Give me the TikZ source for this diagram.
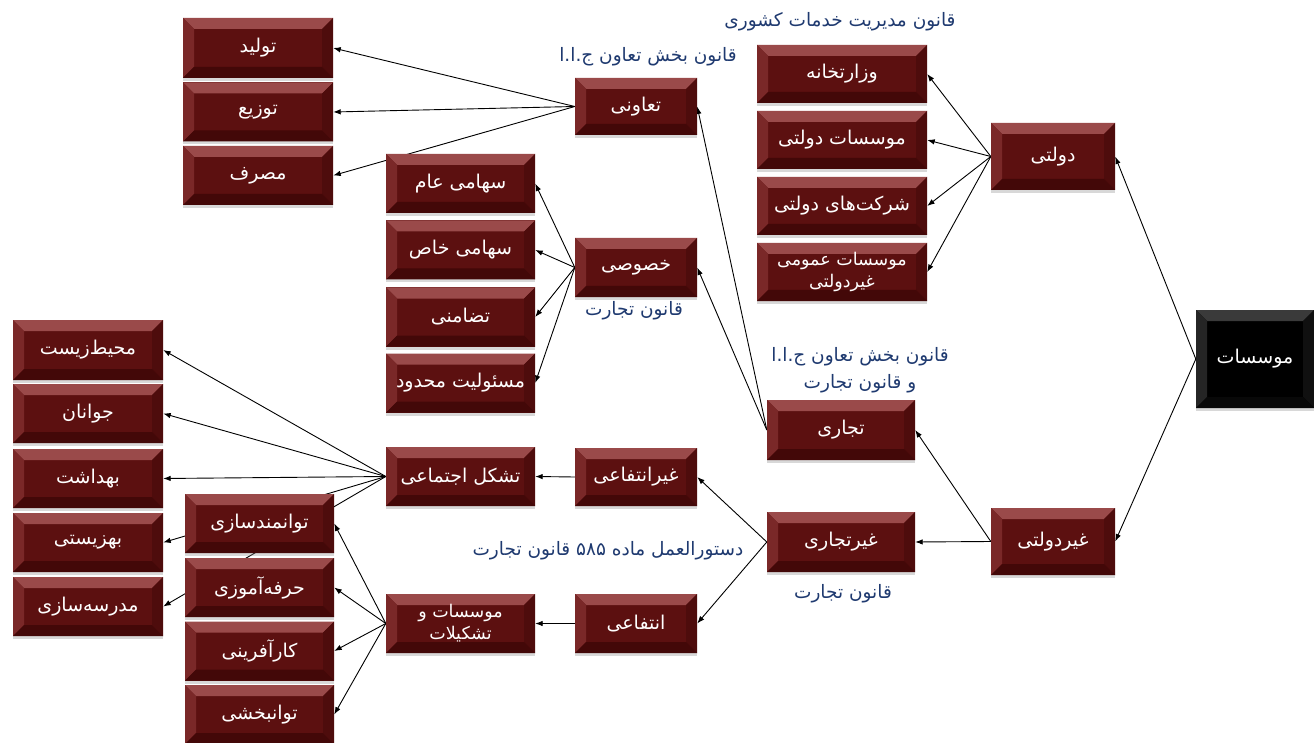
\documentclass[tikz,border=0pt]{standalone}
\usepackage{fontspec}
\TeXXeTstate=1
\newfontfamily\arabicfont[Script=Arabic]{DejaVu Sans}
\usetikzlibrary{arrows.meta,backgrounds,shadows}
\definecolor{boxred}{HTML}{5C1010}
\definecolor{rtop}{HTML}{9A4A4A}
\definecolor{rleft}{HTML}{7A2828}
\definecolor{rright}{HTML}{4E0C0C}
\definecolor{rbot}{HTML}{430808}
\definecolor{ktop}{HTML}{3A3A3A}
\definecolor{kleft}{HTML}{252525}
\definecolor{kright}{HTML}{101010}
\definecolor{kbot}{HTML}{080808}
\definecolor{lawblue}{HTML}{1F3A70}
\newcommand\ar[1]{\beginR #1\endR}
\newcommand\bvd{11pt}
\newcommand\bevelpic[4]{%
 \fill[#1] (path picture bounding box.north west) -- (path picture bounding box.north east)
   -- ([shift={(-\bvd,-\bvd)}]path picture bounding box.north east)
   -- ([shift={(\bvd,-\bvd)}]path picture bounding box.north west) -- cycle;
 \fill[#2] (path picture bounding box.north west) -- ([shift={(\bvd,-\bvd)}]path picture bounding box.north west)
   -- ([shift={(\bvd,\bvd)}]path picture bounding box.south west) -- (path picture bounding box.south west) -- cycle;
 \fill[#3] (path picture bounding box.north east) -- ([shift={(-\bvd,-\bvd)}]path picture bounding box.north east)
   -- ([shift={(-\bvd,\bvd)}]path picture bounding box.south east) -- (path picture bounding box.south east) -- cycle;
 \fill[#4] (path picture bounding box.south west) -- (path picture bounding box.south east)
   -- ([shift={(-\bvd,\bvd)}]path picture bounding box.south east)
   -- ([shift={(\bvd,\bvd)}]path picture bounding box.south west) -- cycle;}
\tikzset{
  bx/.style={draw=none, fill=boxred, text=white, align=center, inner sep=0pt,
    font=\arabicfont\fontsize{19}{27}\selectfont,
    minimum width=150pt, minimum height=60pt,
    path picture={\bevelpic{rtop}{rleft}{rright}{rbot}},
    drop shadow={shadow xshift=0pt, shadow yshift=-3pt, opacity=0.3, fill=gray}},
  twoline/.style={font=\arabicfont\fontsize{17.5}{22}\selectfont},
  blk/.style={bx, fill=black, path picture={\bevelpic{ktop}{kleft}{kright}{kbot}}},
  law/.style={text=lawblue, font=\arabicfont\fontsize{18.5}{27}\selectfont, align=center, inner sep=1pt},
  arr/.style={draw=black, line width=0.9pt, -{Latex[length=7.5pt,width=5.5pt]}}
}
\begin{document}
\begin{tikzpicture}[x=1pt,y=-1pt]
\useasboundingbox (0,0) rectangle (1314,743);
% top-left column
\node[bx] (tolid) at (258,48) {\ar{تولید}};
\node[bx, minimum height=59pt] (towzi) at (258,112) {\ar{توزیع}};
\node[bx, minimum height=59pt] (masraf) at (258,175.5) {\ar{مصرف}};
% taavoni
\node[bx, minimum width=122pt, minimum height=57pt] (tavoni) at (636,106.5) {\ar{تعاونی}};
\node[law] (lawtav) at (648,57) {\ar{قانون بخش تعاون ج.ا.ا}};
% sahami
\node[bx, minimum width=149pt, minimum height=59pt] (samam) at (460.5,183.5) {\ar{سهامی عام}};
\node[bx, minimum width=149pt, minimum height=59pt] (skhas) at (460.5,250) {\ar{سهامی خاص}};
\node[bx, minimum width=149pt, minimum height=59pt] (tazam) at (460.5,317) {\ar{تضامنی}};
\node[bx, minimum width=149pt, minimum height=59pt] (masul) at (460.5,383) {\ar{مسئولیت محدود}};
\node[bx, minimum width=122pt, minimum height=59pt] (khosusi) at (636,267.5) {\ar{خصوصی}};
\node[law] (lawkh) at (634,311) {\ar{قانون تجارت}};
% dowlati
\node[law] (lawdow) at (840,22) {\ar{قانون مدیریت خدمات کشوری}};
\node[bx, minimum width=170pt, minimum height=58pt] (vezarat) at (842,74) {\ar{وزارتخانه}};
\node[bx, minimum width=170pt, minimum height=58pt] (mdow) at (842,140) {\ar{موسسات دولتی}};
\node[bx, minimum width=170pt, minimum height=58pt] (sherkat) at (842,206) {\ar{شرکت‌های دولتی}};
\node[bx, twoline, minimum width=170pt, minimum height=58pt] (omumi) at (842,272) {\ar{موسسات عمومی}\\\ar{غیردولتی}};
\node[bx, minimum width=124pt, minimum height=67pt] (dowlati) at (1053,156.5) {\ar{دولتی}};
% root
\node[blk, minimum width=118pt, minimum height=98pt] (root) at (1255,359) {\ar{موسسات}};
% non-governmental
\node[law] (lawtej) at (860,370) {\ar{قانون بخش تعاون ج.ا.ا}\\\ar{و قانون تجارت}};
\node[bx, minimum width=148pt] (tejari) at (841,430) {\ar{تجاری}};
\node[bx, minimum width=148pt] (gtejari) at (841,542) {\ar{غیرتجاری}};
\node[law] (lawgt) at (843,594) {\ar{قانون تجارت}};
\node[bx, minimum width=124pt, minimum height=67pt] (gdowlati) at (1053,541.5) {\ar{غیردولتی}};
\node[bx, minimum width=122pt, minimum height=58pt] (gentef) at (636,477) {\ar{غیرانتفاعی}};
\node[bx, minimum width=122pt, minimum height=59pt] (entef) at (636,623.5) {\ar{انتفاعی}};
\node[law] (law585) at (608,551) {\ar{دستورالعمل ماده ۵۸۵ قانون تجارت}};
\node[bx, minimum width=149pt, minimum height=59pt] (tashakol) at (460.5,476.5) {\ar{تشکل اجتماعی}};
\node[bx, twoline, minimum width=149pt, minimum height=59pt] (motash) at (460.5,623.5) {\ar{موسسات و}\\\ar{تشکیلات}};
% left column
\node[bx] (mohit) at (88,350) {\ar{محیط‌زیست}};
\node[bx, minimum height=59pt] (javan) at (88,413.5) {\ar{جوانان}};
\node[bx, minimum height=59pt] (behdasht) at (88,478.5) {\ar{بهداشت}};
\node[bx, minimum height=59pt] (behzisti) at (88,542.5) {\ar{بهزیستی}};
\node[bx, minimum height=59pt] (madrese) at (88,606.5) {\ar{مدرسه‌سازی}};
\node[bx, minimum width=149pt, minimum height=59pt] (tavan) at (259.5,523.5) {\ar{توانمندسازی}};
\node[bx, minimum width=149pt, minimum height=59pt] (herfe) at (259.5,587.5) {\ar{حرفه‌آموزی}};
\node[bx, minimum width=149pt, minimum height=59pt] (karaf) at (259.5,651) {\ar{کارآفرینی}};
\node[bx, minimum width=149pt, minimum height=59pt] (tbakhsh) at (259.5,714.5) {\ar{توانبخشی}};
% connectors
\begin{scope}[on background layer]
\fill[white] (0,0) rectangle (1314,743);
\draw[arr] (root.west) -- (dowlati.east);
\draw[arr] (root.west) -- (gdowlati.east);
\foreach \t in {vezarat,mdow,sherkat,omumi} \draw[arr] (dowlati.west) -- (\t.east);
\draw[arr] (gdowlati.west) -- (tejari.east);
\draw[arr] (gdowlati.west) -- (gtejari.east);
\draw[arr] (tejari.west) -- (tavoni.east);
\draw[arr] (tejari.west) -- (khosusi.east);
\foreach \t in {tolid,towzi,masraf} \draw[arr] (tavoni.west) -- (\t.east);
\foreach \t in {samam,skhas,tazam,masul} \draw[arr] (khosusi.west) -- (\t.east);
\draw[arr] (gtejari.west) -- (gentef.east);
\draw[arr] (gtejari.west) -- (entef.east);
\draw[arr] (gentef.west) -- (tashakol.east);
\draw[arr] (entef.west) -- (motash.east);
\foreach \t in {mohit,javan,behdasht,behzisti,madrese} \draw[arr] (tashakol.west) -- (\t.east);
\foreach \t in {tavan,herfe,karaf,tbakhsh} \draw[arr] (motash.west) -- (\t.east);
\end{scope}
\end{tikzpicture}
\end{document}
